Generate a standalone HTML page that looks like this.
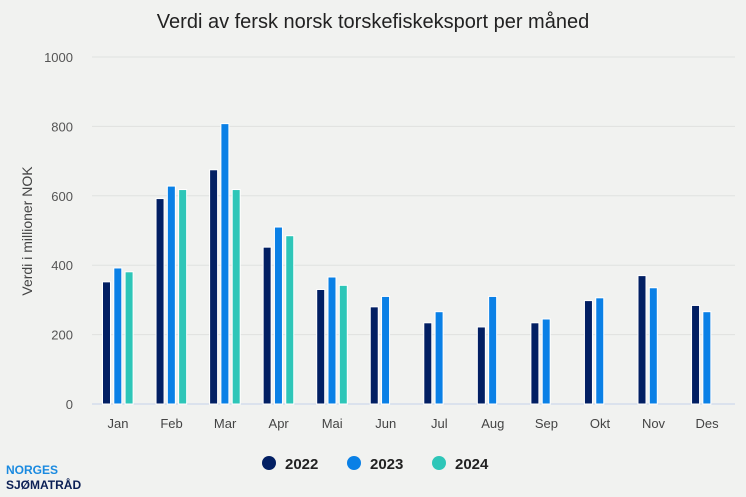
<!DOCTYPE html>
<html><head><meta charset="utf-8"><style>
body{margin:0;background:#f1f2f0;font-family:"Liberation Sans",sans-serif;}
svg{display:block}
</style></head><body>
<svg width="746" height="497" id="c">
<rect width="746" height="497" fill="#f1f2f0"/>
<text x="373" y="28" text-anchor="middle" font-size="20" fill="#222">Verdi av fersk norsk torskefiskeksport per måned</text>
<text transform="translate(32,231) rotate(-90)" text-anchor="middle" font-size="14" fill="#444">Verdi i millioner NOK</text>
<g id="grid"></g><g id="bars"></g><g id="xl"></g>
<g>
<circle cx="269" cy="463" r="7" fill="#021f63"/>
<text x="285" y="469" font-size="15" font-weight="bold" fill="#222">2022</text>
<circle cx="354" cy="463" r="7" fill="#0a80e6"/>
<text x="370" y="469" font-size="15" font-weight="bold" fill="#222">2023</text>
<circle cx="439" cy="463" r="7" fill="#2ec6b8"/>
<text x="455" y="469" font-size="15" font-weight="bold" fill="#222">2024</text>
</g>
<text x="6" y="474" font-size="12" font-weight="bold" fill="#1a8ae0">NORGES</text>
<text x="6" y="489" font-size="12" font-weight="bold" fill="#0b1f55">SJØMATRÅD</text>
</svg>
<script>
const months=["Jan","Feb","Mar","Apr","Mai","Jun","Jul","Aug","Sep","Okt","Nov","Des"];
const s2022=[352,592,675,452,330,280,234,222,234,298,370,284];
const s2023=[392,628,808,510,366,310,266,310,245,306,335,266];
const s2024=[381,618,618,485,342,null,null,null,null,null,null,null];
const yTicks=[0,200,400,600,800,1000];
const NS="http://www.w3.org/2000/svg";
const y0=404,y1=57,x0=92,x1=735;
function y(v){return y0-(v/1000)*(y0-y1);}
function xc(i){return 118+i*53.55;}
function mk(t,a,p){const e=document.createElementNS(NS,t);for(const k in a)e.setAttribute(k,a[k]);p.appendChild(e);return e;}
const g=document.getElementById('grid');
yTicks.forEach(t=>{
 const l=mk('line',{x1:x0,x2:x1,y1:y(t),y2:y(t),stroke:t===0?'#c5d3ea':'#e0e1df','stroke-width':1},g);
 
 
 const tx=mk('text',{x:73,y:y(t)+5,'text-anchor':'end','font-size':13,fill:'#555'},g);
 tx.textContent=t;
 
 
});
const b=document.getElementById('bars'),xl=document.getElementById('xl');
const series=[[s2022,'#021f63','2022'],[s2023,'#0a80e6','2023'],[s2024,'#2ec6b8','2024']];
months.forEach((m,i)=>{
 series.forEach((s,j)=>{
  const v=s[0][i]; if(v==null)return;
  const r=mk('rect',{x:xc(i)-15.5+j*11.3,y:y(v),width:8,height:y0-y(v),fill:s[1],stroke:'#fff','stroke-width':1},b);
  
  
 });
 const t=mk('text',{x:xc(i),y:428,'text-anchor':'middle','font-size':13,fill:'#444'},xl);
 t.textContent=m;
 
 
});
</script>
</body></html>
